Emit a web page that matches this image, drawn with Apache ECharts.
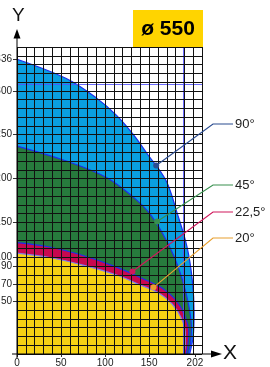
<!DOCTYPE html>
<html>
<head>
<meta charset="utf-8">
<script src="https://cdn.jsdelivr.net/npm/echarts@6/dist/echarts.min.js"></script>
<style>
    html, body { margin: 0; padding: 0; background: #fff; }
    #chart { width: 270px; height: 367px; }
</style>
</head>
<body>
<div id="chart"></div>
<script>
// reach envelopes [x, y] per nozzle angle
const angle90 = [[0, 336], [56, 314], [90, 292], [113, 272], [133, 249], [148, 228], [169, 198], [182, 160], [193, 122], [199, 84], [201, 47], [200, 20], [196, 0]];
const angle45 = [[0, 237], [56, 220], [102, 201], [133, 178], [150, 161], [165, 138], [178, 112], [188, 84], [195, 55], [198, 30], [197, 12], [194, 0]];
const angle22 = [[0, 127], [37, 122], [76, 112], [113, 99], [147, 84], [165, 75], [180, 62], [190, 45], [195, 25], [194, 10], [192, 0]];
const angle20 = [[0, 115], [37, 110], [76, 101], [113, 90], [139, 79], [160, 70], [176, 57], [186, 42], [191, 25], [191, 10], [189, 0]];

const xTicks = [0, 50, 100, 150, 202];
const yTickValues = [60, 80, 100, 110, 150, 200, 250, 300, 336];
const yTickLabels = ['50', '70', '90', '100', '150', '200', '250', '300', '336'];

const guideX = 189;
const guideY = 308;

const pointerNames = ['90°', '45°', '22,5°', '20°'];
const pointerAnchors = [[158, 215], [159, 151], [131, 94], [155, 76]];
const pointerColors = ['#2b4c90', '#38904f', '#d0185c', '#e8a030'];
const pointerLabelY = [124, 185, 212, 238];

const FONT = '"Liberation Sans", Arial, sans-serif';

const chart = echarts.init(document.getElementById('chart'));

function envelope(name, data, fill, stroke) {
    return {
        name: name,
        type: 'line',
        data: data,
        smooth: 0.35,
        symbol: 'none',
        silent: true,
        lineStyle: { color: stroke, width: 1.2 },
        areaStyle: { color: fill, opacity: 1 }
    };
}

chart.setOption({
    animation: false,
    grid: { left: 17, right: 68, top: 47, bottom: 13, outerBoundsMode: 'none', containLabel: false },
    xAxis: [
        {
            type: 'value', min: 0, max: 210, interval: 10, z: 10,
            axisLine: { show: false }, axisTick: { show: false }, axisLabel: { show: false },
            splitLine: { show: true, lineStyle: { color: '#111', width: 1 } }
        },
        {
            type: 'value', min: 0, max: 210, position: 'bottom', z: 11,
            axisLine: { show: false },
            splitLine: { show: false },
            axisTick: { show: true, length: 3, customValues: xTicks, lineStyle: { color: '#333' } },
            axisLabel: { customValues: xTicks, margin: 4, fontSize: 10, color: '#222', fontFamily: FONT }
        }
    ],
    yAxis: [
        {
            type: 'value', min: 0, max: 350, interval: 10, z: 10,
            axisLine: { show: false }, axisTick: { show: false }, axisLabel: { show: false },
            splitLine: { show: true, lineStyle: { color: '#111', width: 1 } }
        },
        {
            type: 'value', min: 0, max: 350, position: 'left', z: 11,
            axisLine: { show: false },
            splitLine: { show: false },
            axisTick: { show: true, length: 4, customValues: yTickValues, lineStyle: { color: '#333' } },
            axisLabel: {
                customValues: yTickValues, margin: 5, fontSize: 10, color: '#222', fontFamily: FONT,
                formatter: v => yTickLabels[yTickValues.indexOf(v)] || ''
            }
        }
    ],
    series: [
        envelope('90°', angle90, '#0a9fe0', '#1c2cf0'),
        envelope('45°', angle45, '#277a3d', '#1c2cf0'),
        envelope('22,5°', angle22, '#c8084f', '#1c2cf0'),
        Object.assign(envelope('20°', angle20, '#f6d214', '#7c7cf0'), {
            markLine: {
                silent: true,
                symbol: 'none',
                label: { show: false },
                lineStyle: { color: '#5050ff', width: 1, type: 'solid', opacity: 0.85 },
                data: [{ xAxis: guideX }, { yAxis: guideY }]
            }
        })
    ]
});

// axes with arrows, titles and the angle call-outs
const graphics = [
    { type: 'line', z: 20, shape: { x1: 17, y1: 358, x2: 17, y2: 37 }, style: { stroke: '#000', lineWidth: 1 } },
    { type: 'polygon', z: 20, shape: { points: [[13.5, 38.5], [20.5, 38.5], [17, 29]] }, style: { fill: '#000' } },
    { type: 'line', z: 20, shape: { x1: 12, y1: 354, x2: 212, y2: 354 }, style: { stroke: '#000', lineWidth: 1 } },
    { type: 'polygon', z: 20, shape: { points: [[211, 350.5], [211, 357.5], [222, 354]] }, style: { fill: '#000' } },
    { type: 'text', z: 20, style: { x: 12, y: 6, text: 'Y', font: '19px ' + FONT, fill: '#111' } },
    { type: 'text', z: 20, style: { x: 223, y: 343, text: 'X', font: '21px ' + FONT, fill: '#111' } },
    { type: 'rect', z: 20, shape: { x: 133, y: 10, width: 70, height: 37 }, style: { fill: '#ffd400' } },
    { type: 'text', z: 21, style: { x: 168, y: 29, text: 'ø 550', font: 'bold 21px ' + FONT, fill: '#000', align: 'center', verticalAlign: 'middle' } }
];

pointerNames.forEach((name, i) => {
    const p = chart.convertToPixel({ gridIndex: 0 }, pointerAnchors[i]);
    const ly = pointerLabelY[i];
    graphics.push({
        type: 'polyline', z: 22,
        shape: { points: [p, [213, ly], [233, ly]] },
        style: { stroke: pointerColors[i], lineWidth: 1.2, fill: null }
    });
    graphics.push({
        type: 'circle', z: 22,
        shape: { cx: p[0], cy: p[1], r: 3 },
        style: { fill: pointerColors[i] }
    });
    graphics.push({
        type: 'text', z: 22,
        style: { x: 235, y: ly, text: name, font: '13px ' + FONT, fill: '#222', verticalAlign: 'middle' }
    });
});

chart.setOption({ graphic: graphics });
</script>
</body>
</html>
